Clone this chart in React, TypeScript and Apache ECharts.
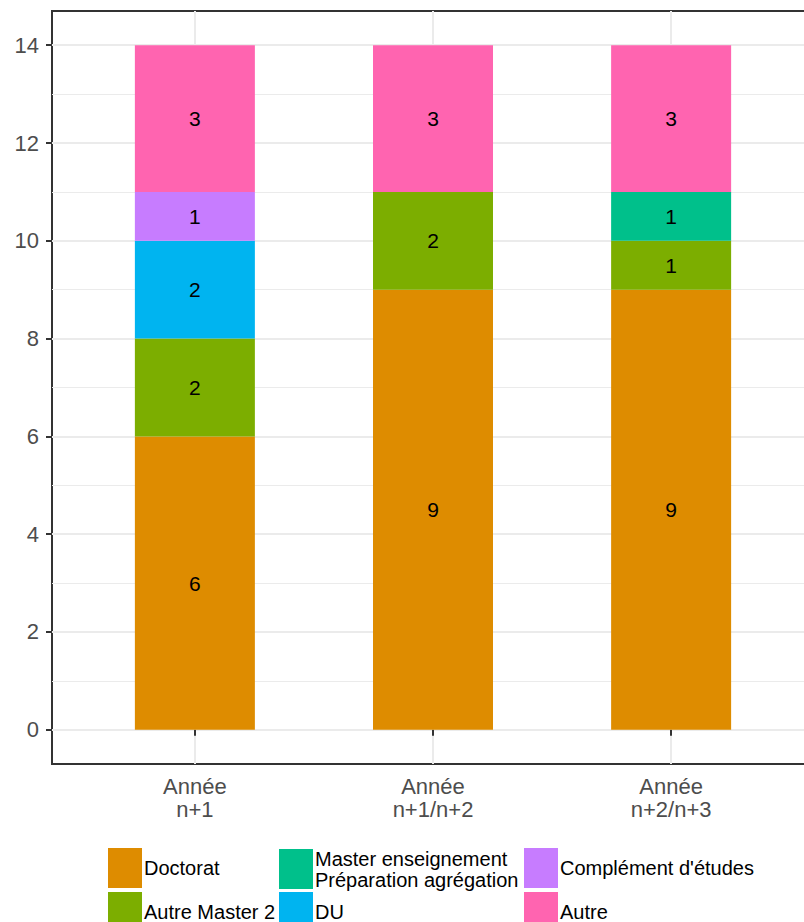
import React, { useEffect, useRef } from "react";
import * as echarts from "echarts";

const categories = ["Année\nn+1", "Année\nn+1/n+2", "Année\nn+2/n+3"];
const categoryPositions = [1, 2, 3];
const seriesNames = [
  "Doctorat",
  "Autre Master 2",
  "Master enseignement\nPréparation agrégation",
  "DU",
  "Complément d'études",
  "Autre",
];
const doctorat = [6, 9, 9];
const autreMaster2 = [2, 2, 1];
const masterEnseignement = [0, 0, 1];
const du = [2, 0, 0];
const complement = [1, 0, 0];
const autre = [3, 3, 3];
const seriesValues = [doctorat, autreMaster2, masterEnseignement, du, complement, autre];
const colors = ["#DE8C00", "#7CAE00", "#00C08B", "#00B4F0", "#C77CFF", "#FF64B0"];
const yMajorTicks = [0, 2, 4, 6, 8, 10, 12, 14];
const yMinorTicks = [1, 3, 5, 7, 9, 11, 13];

const FONT = "'Liberation Sans', Arial, Helvetica, sans-serif";
const legendCols = [108, 279, 524];
const legendRows = [848, 892];

const CHART_W = 814;
const PANEL_LEFT = 52;
const X_MIN = 0.4;
const X_MAX = 3.6;

export default function App() {
  const ref = useRef<HTMLDivElement>(null);
  useEffect(() => {
    document.body.style.margin = "0";
    if (!ref.current) return;
    const chart = echarts.init(ref.current, undefined, { renderer: "svg" });
    const panelW = CHART_W - PANEL_LEFT;
    const unit = panelW / (X_MAX - X_MIN);
    const barsLeft = PANEL_LEFT + (0.5 - X_MIN) * unit;
    const barsRight = CHART_W - (barsLeft + categories.length * unit);

    const series = seriesNames.map((name, i) => ({
      name,
      type: "bar",
      stack: "total",
      barWidth: 120,
      xAxisIndex: 1,
      yAxisIndex: 2,
      itemStyle: { color: colors[i] },
      label: {
        show: true,
        position: "inside",
        color: "#000",
        fontSize: 21,
        fontFamily: FONT,
        formatter: (p: any) => (p.value ? String(p.value) : ""),
      },
      data: seriesValues[i],
    }));
    const legends = seriesNames.map((name, i) => ({
      data: [name],
      left: legendCols[Math.floor(i / 2)],
      top: legendRows[i % 2],
      orient: "horizontal",
      padding: 0,
      itemWidth: 34,
      itemHeight: 40,
      icon: "rect",
      selectedMode: false,
      textStyle: {
        fontSize: 20,
        color: "#000",
        lineHeight: 21,
        fontFamily: FONT,
        padding: [0, 0, 0, -3],
      },
    }));
    chart.setOption({
      animation: false,
      backgroundColor: "#fff",
      textStyle: { fontFamily: FONT },
      grid: [
        {
          left: PANEL_LEFT,
          right: 0,
          top: 11,
          bottom: 158,
          show: true,
          borderColor: "#333333",
          borderWidth: 2,
          backgroundColor: "#fff",
          containLabel: false,
        },
        {
          left: barsLeft,
          right: barsRight,
          top: 11,
          bottom: 158,
          show: false,
          containLabel: false,
        },
      ],
      legend: legends,
      xAxis: [
        {
          type: "value",
          gridIndex: 0,
          min: X_MIN,
          max: X_MAX,
          axisLine: { show: false },
          axisTick: {
            show: true,
            customValues: categoryPositions,
            length: 6,
            lineStyle: { color: "#333333", width: 2 },
          },
          axisLabel: {
            customValues: categoryPositions,
            formatter: (v: number) => categories[Math.round(v) - 1] ?? "",
            color: "#4D4D4D",
            fontSize: 22,
            lineHeight: 23,
            margin: 11,
            fontFamily: FONT,
          },
          splitLine: { show: true, lineStyle: { color: "#EBEBEB", width: 2 } },
        },
        {
          type: "category",
          gridIndex: 1,
          data: categories,
          boundaryGap: true,
          show: false,
        },
      ],
      yAxis: [
        {
          type: "value",
          gridIndex: 0,
          min: -0.7,
          max: 14.7,
          position: "left",
          axisLine: { show: false },
          axisTick: {
            show: true,
            customValues: yMajorTicks,
            length: 6,
            lineStyle: { color: "#333333", width: 2 },
          },
          axisLabel: {
            customValues: yMajorTicks,
            color: "#4D4D4D",
            fontSize: 22,
            margin: 13,
            fontFamily: FONT,
          },
          splitLine: { show: true, lineStyle: { color: "#EBEBEB", width: 2 } },
        },
        {
          type: "value",
          gridIndex: 0,
          min: -0.7,
          max: 14.7,
          position: "left",
          axisLine: { show: false },
          axisTick: { show: false, customValues: yMinorTicks },
          axisLabel: { show: false, customValues: yMinorTicks },
          splitLine: { show: true, lineStyle: { color: "#EBEBEB", width: 1 } },
        },
        {
          type: "value",
          gridIndex: 1,
          min: -0.7,
          max: 14.7,
          show: false,
          splitLine: { show: false },
        },
      ],
      series,
    });
    return () => chart.dispose();
  }, []);
  return (
    <div style={{ width: 804, height: 922, overflow: "hidden", position: "relative", background: "#fff" }}>
      <div ref={ref} style={{ width: CHART_W, height: 922 }} />
    </div>
  );
}
